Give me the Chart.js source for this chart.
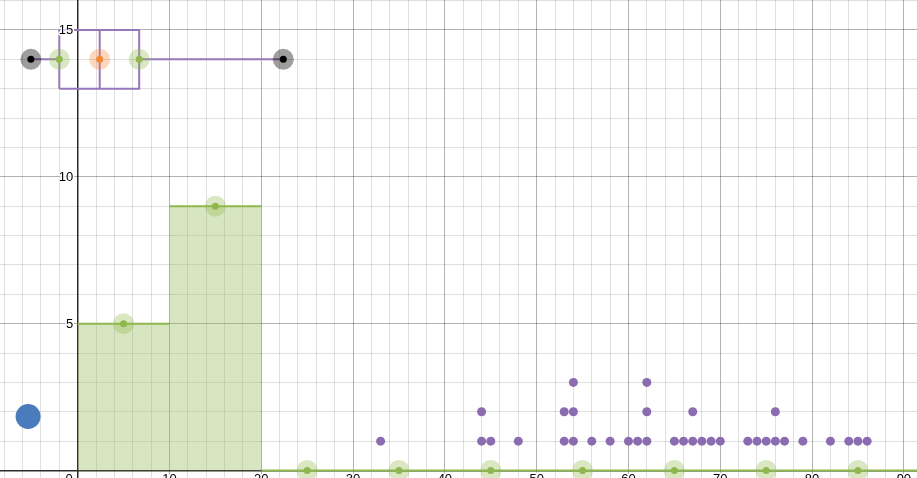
<!DOCTYPE html>
<html><head><meta charset="utf-8">
<script src="https://cdn.jsdelivr.net/npm/chart.js@4/dist/chart.umd.min.js"></script>
<style>html,body{margin:0;padding:0;background:#fff;overflow:hidden}#wrap{width:917px;height:478px;position:relative}</style>
</head><body><div id="wrap"><canvas id="c" width="917" height="478"></canvas></div>
<script>
// ---- data ----
const binEdges = [0, 10, 20, 30, 40, 50, 60, 70, 80, 90, 100];
const binCounts = [5, 9, 0, 0, 0, 0, 0, 0, 0, 0];
const boxStats = [-5.1, -2, 2.4, 6.7, 22.4]; // min, Q1, median, Q3, max
const boxLevel = 14;
const dotValues = [33, 44, 44, 45, 48, 53, 53, 54, 54, 54, 56, 58, 60, 61, 62, 62, 62,
  65, 66, 67, 67, 68, 69, 70, 73, 74, 75, 76, 76, 77, 79, 82, 84, 85, 86];
const blueMarker = [{ x: -5.4, y: 1.84 }];
const xTickValues = [-10, 0, 10, 20, 30, 40, 50, 60, 70, 80, 90];
const xTickLabels = ['−10', '0', '10', '20', '30', '40', '50', '60', '70', '80', '90'];
const yTickValues = [5, 10, 15];
const yTickLabels = ['5', '10', '15'];

// ---- styles ----
const GREEN = 'rgb(143,183,78)';
const GREEN_FILL = 'rgba(145,185,80,0.36)';
const GREEN_HALO = 'rgba(145,185,80,0.35)';
const PURPLE = 'rgb(150,120,185)';
const PURPLE_DOT = 'rgb(139,108,176)';
const ORANGE = 'rgb(245,135,55)';
const ORANGE_HALO = 'rgba(245,140,60,0.35)';
const BLACK_HALO = 'rgba(0,0,0,0.38)';
const BLUE = 'rgb(74,123,189)';
const BOX_HALF = 1;

// ---- derived datasets ----
const histLine = [];
for (let i = 0; i < binCounts.length; i++) {
  histLine.push({ x: binEdges[i], y: binCounts[i] });
  histLine.push({ x: binEdges[i + 1], y: binCounts[i] });
}
const histPoints = binCounts.map((c, i) => ({ x: (binEdges[i] + binEdges[i + 1]) / 2, y: c }));

const [bMin, bQ1, bMed, bQ3, bMax] = boxStats;
const gap = { x: null, y: null };
const boxLines = [
  { x: bQ1, y: boxLevel - BOX_HALF }, { x: bQ3, y: boxLevel - BOX_HALF },
  { x: bQ3, y: boxLevel + BOX_HALF }, { x: bQ1, y: boxLevel + BOX_HALF },
  { x: bQ1, y: boxLevel - BOX_HALF }, gap,
  { x: bMed, y: boxLevel - BOX_HALF }, { x: bMed, y: boxLevel + BOX_HALF }, gap,
  { x: bMin, y: boxLevel }, { x: bQ1, y: boxLevel }, gap,
  { x: bQ3, y: boxLevel }, { x: bMax, y: boxLevel }
];
const boxPoints = boxStats.map(v => ({ x: v, y: boxLevel }));
const boxCoreColors = ['#000', GREEN, ORANGE, GREEN, '#000'];
const boxHaloColors = [BLACK_HALO, GREEN_HALO, ORANGE_HALO, GREEN_HALO, BLACK_HALO];

const seen = {};
const dotPoints = dotValues.map(v => { seen[v] = (seen[v] || 0) + 1; return { x: v, y: seen[v] }; });

// ---- chart ----
const gridColor = (major) => (ctx) => {
  const v = ctx.tick && ctx.tick.value;
  if (v === 0) return '#2b2b2b';
  return (Math.abs(v % major) < 1e-9) ? 'rgba(0,0,0,0.30)' : 'rgba(0,0,0,0.12)';
};
const gridWidth = (ctx) => (ctx.tick && ctx.tick.value === 0) ? 1.5 : 1;

const labelPlugin = {
  id: 'axisLabels',
  afterDatasetsDraw(chart) {
    const { ctx, scales: { x, y } } = chart;
    const x0 = x.getPixelForValue(0), y0 = y.getPixelForValue(0);
    ctx.save();
    ctx.font = '13px "Liberation Sans", Arial, sans-serif';
    ctx.fillStyle = '#000';
    ctx.strokeStyle = 'rgba(255,255,255,0.95)';
    ctx.lineWidth = 3; ctx.lineJoin = 'round';
    ctx.textBaseline = 'alphabetic';
    xTickValues.forEach((v, i) => {
      let px = x.getPixelForValue(v);
      ctx.textAlign = 'center';
      if (v === 0) { ctx.textAlign = 'right'; px = x0 - 5; }
      ctx.strokeText(xTickLabels[i], px, y0 + 12);
      ctx.fillText(xTickLabels[i], px, y0 + 12);
    });
    ctx.textAlign = 'right'; ctx.textBaseline = 'middle';
    yTickValues.forEach((v, i) => {
      const py = y.getPixelForValue(v) + 0.5;
      ctx.strokeText(yTickLabels[i], x0 - 4.5, py);
      ctx.fillText(yTickLabels[i], x0 - 4.5, py);
    });
    ctx.restore();
  }
};

new Chart(document.getElementById('c'), {
  type: 'scatter',
  data: {
    datasets: [
      { data: boxPoints, pointRadius: 3.5, pointBackgroundColor: boxCoreColors, pointBorderWidth: 0, showLine: false },
      { data: boxPoints, pointRadius: 10.5, pointBackgroundColor: boxHaloColors, pointBorderWidth: 0, showLine: false },
      { data: boxLines, showLine: true, borderColor: PURPLE, borderWidth: 2, pointRadius: 0, spanGaps: false, fill: false },
      { data: histPoints, pointRadius: 3.5, pointBackgroundColor: GREEN, pointBorderWidth: 0, showLine: false },
      { data: histPoints, pointRadius: 10.5, pointBackgroundColor: GREEN_HALO, pointBorderWidth: 0, showLine: false },
      { data: dotPoints, pointRadius: 4.5, pointBackgroundColor: PURPLE_DOT, pointBorderWidth: 0, showLine: false },
      { data: blueMarker, pointRadius: 12.5, pointBackgroundColor: BLUE, pointBorderWidth: 0, showLine: false },
      { data: histLine, showLine: true, pointRadius: 0, borderWidth: 2, borderColor: GREEN,
        backgroundColor: GREEN_FILL, fill: 'origin',
        segment: { borderColor: (c) => Math.abs(c.p0.x - c.p1.x) < 0.5 ? 'rgba(0,0,0,0)' : GREEN } }
    ]
  },
  options: {
    responsive: false, animation: false, devicePixelRatio: 1,
    layout: { padding: 0, autoPadding: false },
    events: [],
    plugins: { legend: { display: false }, tooltip: { enabled: false } },
    scales: {
      x: { type: 'linear', min: -8.46, max: 91.43,
        ticks: { display: false, stepSize: 2, includeBounds: false },
        grid: { drawTicks: false, color: gridColor(10), lineWidth: gridWidth },
        border: { display: false } },
      y: { type: 'linear', min: -0.255, max: 16.02,
        ticks: { display: false, stepSize: 1, includeBounds: false },
        grid: { drawTicks: false, color: gridColor(5), lineWidth: gridWidth },
        border: { display: false } }
    }
  },
  plugins: [labelPlugin]
});
</script>
</body></html>
